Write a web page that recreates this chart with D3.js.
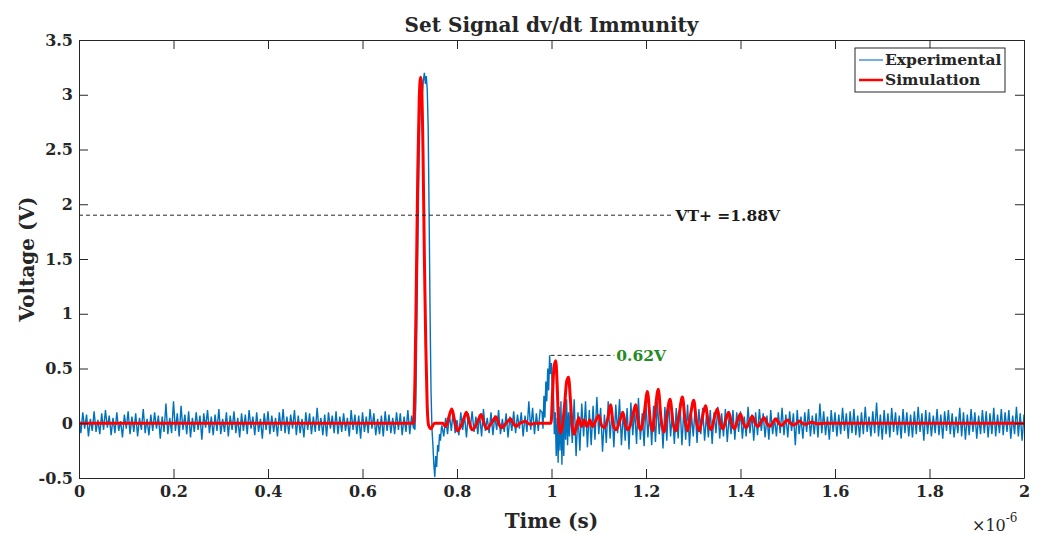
<!DOCTYPE html>
<html>
<head>
<meta charset="utf-8">
<script src="https://cdn.jsdelivr.net/npm/d3@7"></script>
<style>
  body { margin: 0; background: #fff; }
  svg text { font-family: "DejaVu Serif", "Liberation Serif", serif; font-weight: bold; fill: #262626; }
</style>
</head>
<body>
<svg id="chart" width="1042" height="534"></svg>
<script>
// time in units of 1e-6 s, voltage in V
var expStep = 0.004;

// baseline noise, t = 0 .. 0.708
var expBaseStart = 0;
var expBase = [
  .06,-.09,.1,-.05,.08,-.12,.04,-.07,.11,-.08,
  .03,-.1,.09,-.06,.12,-.04,.07,-.11,.05,-.09,
  .1,-.07,.02,-.13,.08,-.05,.11,-.1,.06,-.08,
  .09,-.12,.05,-.06,.13,-.09,.04,-.11,.08,-.07,
  .1,-.05,.07,-.14,.06,-.08,.18,-.1,.05,-.09,
  .2,-.07,.09,-.12,.16,-.06,.08,-.1,.11,-.13,
  .05,-.08,.1,-.06,.07,-.15,.09,-.04,.12,-.09,
  .06,-.11,.08,-.07,.13,-.1,.04,-.08,.1,-.12,
  .07,-.06,.11,-.09,.05,-.13,.09,-.07,.08,-.1,
  .12,-.05,.06,-.11,.1,-.08,.04,-.14,.09,-.06,
  .11,-.1,.07,-.08,.05,-.12,.1,-.07,.13,-.09,
  .06,-.1,.08,-.05,.12,-.11,.07,-.09,.04,-.13,
  .1,-.06,.09,-.1,.06,-.08,.14,-.07,.05,-.11,
  .08,-.12,.1,-.05,.07,-.09,.11,-.1,.06,-.08,
  .09,-.07,.05,-.12,.12,-.06,.08,-.1,.07,-.14,
  .1,-.08,.06,-.09,.13,-.05,.09,-.11,.04,-.1,
  .07,-.12,.11,-.07,.08,-.09,.05,-.1,.1,-.06,
  .09,-.11,.06,-.08,.12,-.1,.07,-.05
];

// main pulse [t, v]
var expPulse = [
  [0.708,.05],[0.711,-.06],[0.713,.2],[0.715,.9],[0.717,1.6],[0.719,2.2],[0.721,2.7],
  [0.723,3.0],[0.725,3.1],[0.727,3.02],[0.729,3.14],[0.731,3.2],[0.733,3.1],[0.735,3.17],
  [0.737,3.05],[0.739,2.7],[0.741,1.9],[0.743,1.0],[0.745,.3],[0.747,-.05],[0.749,-.2],
  [0.751,-.38],[0.753,-.49],[0.755,-.3],[0.757,-.4],[0.759,-.2],[0.761,-.26],[0.763,-.1],
  [0.765,-.16],[0.767,-.04]
];

// noise between pulse and second event, t = 0.768 ..
var expMidStart = 0.768;
var expMid = [
  -.02,-.12,.05,-.1,.08,-.07,.12,-.09,.03,-.11,
  .1,-.06,.07,-.13,.09,-.05,.11,-.08,.06,-.1,
  .08,-.12,.13,-.07,.05,-.09,.1,-.11,.07,-.06,
  .12,-.1,.04,-.08,.09,-.13,.06,-.07,.11,-.09,
  .08,-.05,.1,-.12,.07,-.08,.2,-.06,.14,-.1,
  .09,-.07,.12
];

// second event near 1e-6 s [t, v]
var expEvent = [
  [0.980,.1],[0.982,-.05],[0.984,.25],[0.986,.05],[0.988,.38],[0.990,.2],[0.992,.5],
  [0.994,.3],[0.996,.62],[0.998,.45],[1.000,.55],[1.002,.2],[1.004,.3],[1.006,-.1],
  [1.008,.1],[1.010,-.3],[1.012,.05],[1.014,-.36],[1.016,.15],[1.018,-.25],[1.020,.2],
  [1.022,-.38],[1.024,.05],[1.026,-.3],[1.028,.18],[1.030,-.15],[1.032,.22],[1.034,-.2],
  [1.036,.1],[1.038,-.12]
];

// noise after the event, t = 1.04 .. 2.0
var expTailStart = 1.04;
var expTail = [
  .15,-.18,.22,-.3,.1,-.25,.18,-.12,.2,-.22,
  .12,-.2,.16,-.15,.24,-.1,.14,-.26,.08,-.18,
  .2,-.14,.12,-.22,.17,-.09,.22,-.2,.1,-.16,
  .14,-.24,.19,-.11,.13,-.19,.23,-.15,.09,-.21,
  .18,-.13,.12,-.2,.16,-.17,.2,-.1,.11,-.23,
  .15,-.16,.21,-.12,.1,-.19,.14,-.14,.18,-.2,
  .12,-.15,.17,-.21,.09,-.12,.15,-.18,.13,-.1,
  .14,-.16,.08,-.13,.12,-.19,.1,-.09,.15,-.14,
  .09,-.12,.13,-.17,.07,-.1,.12,-.15,.1,-.08,
  .11,-.14,.06,-.12,.15,-.09,.08,-.16,.1,-.11,
  .13,-.07,.09,-.13,.07,-.15,.12,-.1,.05,-.12,
  .1,-.09,.14,-.11,.08,-.13,.11,-.07,.09,-.2,
  .12,-.1,.06,-.14,.1,-.08,.13,-.12,.07,-.1,
  .09,-.13,.18,-.09,.11,-.11,.06,-.15,.12,-.08,
  .1,-.12,.08,-.1,.14,-.07,.09,-.14,.11,-.09,
  .13,-.11,.07,-.13,.1,-.1,.15,-.08,.06,-.12,
  .11,-.09,.19,-.12,.08,-.15,.12,-.1,.09,-.13,
  .14,-.08,.1,-.11,.07,-.14,.13,-.09,.1,-.12,
  .08,-.13,.11,-.1,.15,-.08,.09,-.16,.12,-.1,
  .1,-.12,.07,-.09,.13,-.11,.08,-.14,.11,-.07,
  .12,-.1,.09,-.13,.06,-.09,.14,-.12,.1,-.15,
  .08,-.11,.13,-.08,.1,-.14,.07,-.1,.12,-.09,
  .11,-.13,.09,-.1,.14,-.12,.08,-.09,.13,-.11,
  .1,-.08,.12,-.14,.07,-.1,.15,-.12,.09,-.16,
  .08
];

// simulation trace [t, v]
var simTrace = [
  [0,0],[0.708,0],[0.711,.4],[0.714,1.3],[0.717,2.3],[0.720,2.95],[0.723,3.16],[0.725,3.1],
  [0.728,2.5],[0.731,1.5],[0.734,.7],[0.737,.15],[0.740,-.02],[0.745,-.05],[0.752,0],
  [0.770,0],[0.776,-.03],[0.783,.06],[0.789,.13],[0.795,.02],[0.801,-.07],[0.809,-.02],
  [0.815,.05],[0.820,.1],[0.826,.01],[0.832,-.06],[0.840,-.02],
  [0.846,.04],[0.851,.08],[0.857,0],[0.863,-.05],[0.871,-.01],
  [0.877,.03],[0.882,.06],[0.888,0],[0.894,-.04],[0.902,-.01],
  [0.908,.02],[0.913,.04],[0.919,0],[0.925,-.03],[0.933,0],
  [0.939,.01],[0.944,.02],[0.950,0],[0.956,-.01],[0.965,0],
  [0.999,0],[1.002,.25],[1.005,.5],[1.009,.57],[1.012,.35],[1.015,0],[1.019,-.09],[1.023,-.02],
  [1.028,.18],[1.032,.38],[1.036,.42],[1.040,.22],[1.044,-.03],[1.048,-.1],[1.053,-.02],
  [1.058,.05],[1.063,-.03],[1.069,.03],[1.075,-.03],[1.081,.03],[1.087,-.03],
  [1.093,.02],[1.100,.07],[1.106,-.02],[1.112,-.04],
  [1.119,.04],[1.125,.17],[1.131,-.02],[1.137,-.06],
  [1.145,.03],[1.151,.1],[1.157,-.02],[1.162,-.06],
  [1.171,.05],[1.178,.17],[1.184,-.01],[1.189,-.06],
  [1.196,.08],[1.203,.29],[1.209,.02],[1.214,-.07],
  [1.219,.1],[1.226,.31],[1.232,.03],[1.238,-.08],
  [1.244,.07],[1.251,.22],[1.257,.01],[1.263,-.07],
  [1.270,.08],[1.277,.24],[1.283,.02],[1.288,-.07],
  [1.294,.07],[1.301,.21],[1.307,.01],[1.313,-.07],
  [1.319,.05],[1.326,.16],[1.332,0],[1.338,-.06],
  [1.344,.04],[1.351,.13],[1.357,0],[1.363,-.05],
  [1.369,.03],[1.375,.1],[1.381,0],[1.387,-.05],
  [1.394,.03],[1.400,.085],[1.406,0],[1.412,-.04],
  [1.419,.02],[1.425,.065],[1.431,0],[1.437,-.03],
  [1.444,.02],[1.450,.05],[1.456,0],[1.462,-.03],
  [1.469,.01],[1.475,.04],[1.481,0],[1.487,-.02],
  [1.494,.01],[1.500,.03],[1.506,0],[1.512,-.015],
  [1.519,0],[1.525,.02],[1.531,0],[1.537,-.01],
  [1.550,.01],[1.562,-.005],[1.580,0],[2,0]
];

var xTicks = [0,0.2,0.4,0.6,0.8,1,1.2,1.4,1.6,1.8,2];
var yTicks = [-0.5,0,0.5,1,1.5,2,2.5,3,3.5];

var seriesNames = ["Experimental","Simulation"];
var markLevels = [1.9, 0.62];
var markStart = [0, 0.998];
var markEnd = [1.258, 1.133];
var markLabels = ["VT+ =1.88V", "0.62V"];

// ---------------------------------------------------------------
function uniform(t0, vals){
  return vals.map(function(v,i){ return [t0 + i*expStep, v]; });
}
var expTrace = [].concat(
  uniform(expBaseStart, expBase), expPulse,
  uniform(expMidStart, expMid), expEvent,
  uniform(expTailStart, expTail)
);

var svg = d3.select("#chart");
var margin = {left: 79, right: 18, top: 40, bottom: 56};
var W = 1042, H = 534;

var x = d3.scaleLinear().domain([0,2]).range([margin.left, W - margin.right]);
var y = d3.scaleLinear().domain([-0.5,3.5]).range([H - margin.bottom, margin.top]);

svg.append("defs").append("clipPath").attr("id","plotClip")
  .append("rect")
  .attr("x", x(0)).attr("y", y(3.5))
  .attr("width", x(2)-x(0)).attr("height", y(-0.5)-y(3.5));

var plot = svg.append("g").attr("clip-path","url(#plotClip)");

var line = d3.line().x(function(d){ return x(d[0]); }).y(function(d){ return y(d[1]); });

plot.append("path")
  .datum(expTrace)
  .attr("d", line)
  .attr("fill","none")
  .attr("stroke","#0072BD")
  .attr("stroke-width",1.4);

plot.append("path")
  .datum(simTrace)
  .attr("d", line.curve(d3.curveMonotoneX))
  .attr("fill","none")
  .attr("stroke","#FF0000")
  .attr("stroke-width",3)
  .attr("stroke-linejoin","round");

// dashed level marks
markLevels.forEach(function(v,i){
  svg.append("line")
    .attr("x1", x(markStart[i])).attr("x2", x(markEnd[i]))
    .attr("y1", y(v)).attr("y2", y(v))
    .attr("stroke","#262626").attr("stroke-width",1)
    .attr("stroke-dasharray","4,3");
  svg.append("text")
    .attr("x", x(markEnd[i]) + 2).attr("y", y(v))
    .attr("dy","0.35em")
    .attr("font-size",15.5)
    .style("fill", i == 0 ? "#1a1a1a" : "#228B22")
    .text(markLabels[i]);
});

// axes, box style with inward ticks
var tick = 9;
var fmt = function(d){ return String(d); };

var gx = svg.append("g").attr("transform","translate(0," + y(-0.5) + ")")
  .call(d3.axisBottom(x).tickValues(xTicks).tickFormat(fmt).tickSizeInner(-tick).tickSizeOuter(0).tickPadding(8));
var gy = svg.append("g").attr("transform","translate(" + x(0) + ",0)")
  .call(d3.axisLeft(y).tickValues(yTicks).tickFormat(fmt).tickSizeInner(-tick).tickSizeOuter(0).tickPadding(6));
var gt = svg.append("g").attr("transform","translate(0," + y(3.5) + ")")
  .call(d3.axisTop(x).tickValues(xTicks).tickFormat("").tickSizeInner(-tick).tickSizeOuter(0));
var gr = svg.append("g").attr("transform","translate(" + x(2) + ",0)")
  .call(d3.axisRight(y).tickValues(yTicks).tickFormat("").tickSizeInner(-tick).tickSizeOuter(0));

[gx,gy,gt,gr].forEach(function(g){
  g.select(".domain").attr("stroke","#262626");
  g.selectAll(".tick line").attr("stroke","#262626");
  g.selectAll("text").attr("font-size",16).attr("font-family",null).style("fill","#262626");
});

// titles
svg.append("text")
  .attr("x", (x(0)+x(2))/2).attr("y", 32)
  .attr("text-anchor","middle").attr("font-size",20)
  .text("Set Signal dv/dt Immunity");

svg.append("text")
  .attr("x", (x(0)+x(2))/2).attr("y", 528)
  .attr("text-anchor","middle").attr("font-size",20)
  .text("Time (s)");

svg.append("text")
  .attr("transform","translate(34," + y(1.5) + ") rotate(-90)")
  .attr("text-anchor","middle").attr("font-size",20)
  .text("Voltage (V)");

var ex = svg.append("text").attr("x", 972).attr("y", 531).attr("font-size",16).style("font-weight","normal");
ex.append("tspan").text("\u00d710");
ex.append("tspan").attr("dy",-9).attr("font-size",12).text("-6");

// legend
var lg = svg.append("g").attr("transform","translate(855,48)");
lg.append("rect").attr("width",150).attr("height",44)
  .attr("fill","#fff").attr("stroke","#262626").attr("stroke-width",1);
var legColors = ["#0072BD","#FF0000"];
var legWidths = [1.1, 2.5];
seriesNames.forEach(function(name,i){
  var ly = 12 + i*20;
  lg.append("line").attr("x1",4).attr("x2",28).attr("y1",ly).attr("y2",ly)
    .attr("stroke",legColors[i]).attr("stroke-width",legWidths[i]);
  lg.append("text").attr("x",30).attr("y",ly).attr("dy","0.35em")
    .attr("font-size",15.5).text(name);
});
</script>
</body>
</html>
